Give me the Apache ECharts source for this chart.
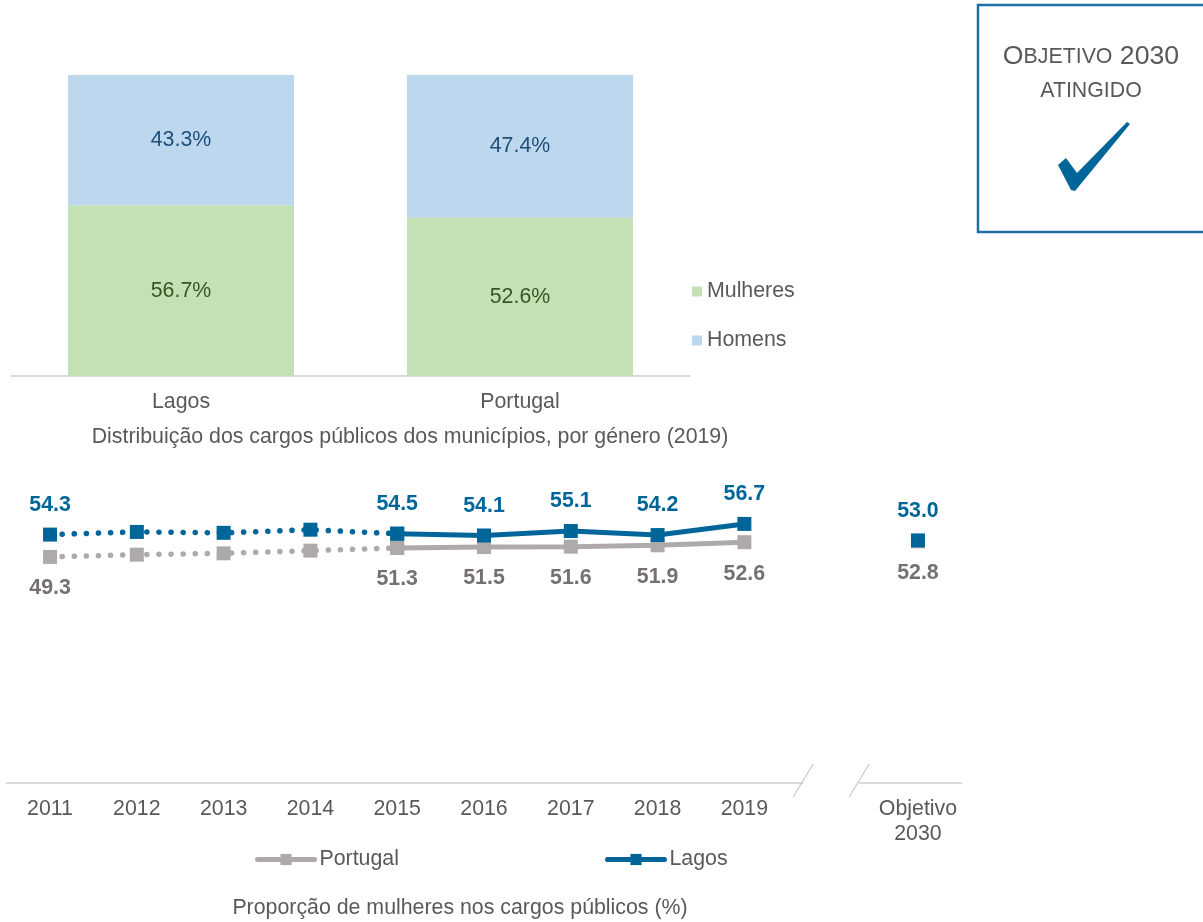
<!DOCTYPE html>
<html><head><meta charset="utf-8">
<script src="https://cdn.jsdelivr.net/npm/echarts@6/dist/echarts.min.js"></script>
<style>html,body{margin:0;padding:0;background:#fff}#c{width:1203px;height:922px}</style>
</head><body><div id="c"></div>
<script>
// ---- data ----
const barCategories = ['Lagos', 'Portugal'];
const womenShare = [56.7, 52.6];
const menShare = [43.3, 47.4];
const years = ['2011','2012','2013','2014','2015','2016','2017','2018','2019','','Objetivo\n2030'];
const lagosValues = [54.3, 54.9, 54.7, 55.4, 54.5, 54.1, 55.1, 54.2, 56.7, null, 53.0];
const portugalValues = [49.3, 49.8, 50.1, 50.7, 51.3, 51.5, 51.6, 51.9, 52.6, null, 52.8];
const labelledPoints = [true, false, false, false, true, true, true, true, true, false, true];
const dottedLastIndex = 4;
const breakIndex = 9;

// ---- styles ----
const FONT = "'Liberation Sans', Arial, sans-serif";
const FS = 21.33;
const TXT = '#595959';
const BLUE = '#006699';
const GRAY = '#aeaaaa';
const GRAY_TXT = '#767171';

function lineSeries(name, values, color, labelColor, pos, dist, dotted) {
  const data = values.map((v, i) => {
    const inSeg = dotted ? i <= dottedLastIndex : i >= dottedLastIndex;
    if (!inSeg || v == null) return null;
    const show = labelledPoints[i] && (dotted ? i < dottedLastIndex : true);
    return { value: v, label: { show: show } };
  });
  return {
    type: 'line', name: name, xAxisIndex: 1, yAxisIndex: 1, data: data,
    symbol: 'rect', symbolSize: 14, showSymbol: true, showAllSymbol: true,
    itemStyle: { color: color },
    lineStyle: { color: color, width: dotted ? 5.5 : 5, type: dotted ? [0.1, 12] : 'solid', cap: 'round' },
    label: {
      position: pos, distance: dist, color: labelColor, fontWeight: 'bold',
      fontSize: FS, fontFamily: FONT,
      formatter: p => Number(p.value).toFixed(1)
    },
    emphasis: { disabled: true }, silent: true
  };
}

const chart = echarts.init(document.getElementById('c'), null, { renderer: 'canvas' });

const legendLine = { width: 5, cap: 'round' };
const option = {
  animation: false,
  backgroundColor: '#fff',
  textStyle: { fontFamily: FONT },
  grid: [
    { left: 11.5, width: 678, top: 75, height: 301 },
    { left: 6.65, width: 954.7, top: 330.8, height: 452.2 }
  ],
  xAxis: [
    {
      gridIndex: 0, type: 'category', data: barCategories,
      axisLine: { onZero: false, lineStyle: { color: '#d9d9d9', width: 2 } },
      axisTick: { show: false },
      axisLabel: { color: TXT, fontSize: FS, fontFamily: FONT, margin: 14, lineHeight: 25 }
    },
    {
      gridIndex: 1, type: 'category', data: years, boundaryGap: true,
      axisLine: { onZero: false, lineStyle: { color: '#d9d9d9', width: 2 } },
      axisTick: { show: false },
      axisLabel: { color: TXT, fontSize: FS, fontFamily: FONT, margin: 14, lineHeight: 25, interval: 0 }
    }
  ],
  yAxis: [
    { gridIndex: 0, type: 'value', min: 0, max: 100, show: false },
    { gridIndex: 1, type: 'value', min: -1.4, max: 100, show: false }
  ],
  legend: [
    {
      data: ['Mulheres', 'Homens'], orient: 'vertical', left: 687, top: 276,
      itemWidth: 10, itemHeight: 10, itemGap: 28, icon: 'rect', selectedMode: false,
      textStyle: { color: TXT, fontSize: FS, fontFamily: FONT }
    },
    {
      data: ['Portugal'], left: 250, top: 844, itemWidth: 57, itemHeight: 14,
      selectedMode: false, lineStyle: legendLine,
      textStyle: { color: TXT, fontSize: FS, fontFamily: FONT }
    },
    {
      data: ['Lagos'], left: 600, top: 844, itemWidth: 57, itemHeight: 14,
      selectedMode: false, lineStyle: legendLine,
      textStyle: { color: TXT, fontSize: FS, fontFamily: FONT }
    }
  ],
  series: [
    {
      type: 'bar', name: 'Mulheres', stack: 'total', xAxisIndex: 0, yAxisIndex: 0,
      data: womenShare, barWidth: 226, itemStyle: { color: '#c5e0b4' },
      label: { show: true, position: 'inside', color: '#375623', fontSize: FS, fontFamily: FONT,
        formatter: p => p.value.toFixed(1) + '%' },
      emphasis: { disabled: true }, silent: true
    },
    {
      type: 'bar', name: 'Homens', stack: 'total', xAxisIndex: 0, yAxisIndex: 0,
      data: menShare, barWidth: 226, itemStyle: { color: '#bdd7ee' },
      label: { show: true, position: 'inside', color: '#1f4e79', fontSize: FS, fontFamily: FONT,
        formatter: p => p.value.toFixed(1) + '%' },
      emphasis: { disabled: true }, silent: true
    },
    lineSeries('Portugal', portugalValues, GRAY, GRAY_TXT, 'bottom', 14, false),
    lineSeries('Portugal', portugalValues, GRAY, GRAY_TXT, 'bottom', 14, true),
    lineSeries('Lagos', lagosValues, BLUE, BLUE, 'top', 12, false),
    lineSeries('Lagos', lagosValues, BLUE, BLUE, 'top', 12, true)
  ],
  graphic: [
    { type: 'rect', z: 100, shape: { x: 978, y: 5, width: 260, height: 227 },
      style: { fill: 'none', stroke: '#1f6fa5', lineWidth: 2.5 } },
    { type: 'text', z: 100, x: 1091, y: 57,
      style: { text: '{b|O}{s|BJETIVO}{b| 2030}', align: 'center', verticalAlign: 'middle',
        rich: {
          b: { fontSize: 26.67, fontFamily: FONT, fill: TXT, color: TXT },
          s: { fontSize: 21.33, fontFamily: FONT, fill: TXT, color: TXT }
        } } },
    { type: 'text', z: 100, x: 1091, y: 91,
      style: { text: 'ATINGIDO', align: 'center', verticalAlign: 'middle',
        font: '21.33px ' + FONT, fill: TXT } },
    { type: 'polygon', z: 100,
      shape: { points: [[1058, 165], [1066, 158], [1077, 173], [1127, 122], [1130, 124], [1075, 191], [1071, 190]] },
      style: { fill: BLUE } },
    { type: 'text', z: 100, x: 410, y: 437,
      style: { text: 'Distribuição dos cargos públicos dos municípios, por género (2019)',
        align: 'center', verticalAlign: 'middle', font: FS + 'px ' + FONT, fill: TXT } },
    { type: 'text', z: 100, x: 460, y: 908,
      style: { text: 'Proporção de mulheres nos cargos públicos (%)',
        align: 'center', verticalAlign: 'middle', font: FS + 'px ' + FONT, fill: TXT } }
  ]
};
chart.setOption(option);

// axis break marks around the empty category
const c = chart.convertToPixel({ xAxisIndex: 1, yAxisIndex: 1 }, [breakIndex, -1.4]);
const cx = c[0], ay = c[1];
chart.setOption({
  graphic: option.graphic.concat([
    { type: 'rect', z: 101, shape: { x: cx - 28, y: ay - 3, width: 56, height: 6 }, style: { fill: '#fff' } },
    { type: 'line', z: 102, shape: { x1: cx - 18, y1: ay - 19, x2: cx - 38, y2: ay + 14 },
      style: { stroke: '#c8c8c8', lineWidth: 1.2 } },
    { type: 'line', z: 102, shape: { x1: cx + 38, y1: ay - 19, x2: cx + 18, y2: ay + 14 },
      style: { stroke: '#c8c8c8', lineWidth: 1.2 } }
  ])
});
</script></body></html>
